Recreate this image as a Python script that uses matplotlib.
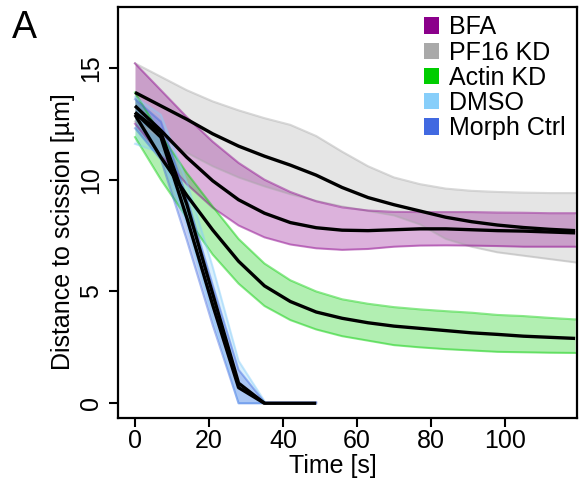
import matplotlib
matplotlib.use("Agg")
import matplotlib.pyplot as plt
from matplotlib.patches import Patch
import numpy as np

plt.rcParams['font.family'] = ['Liberation Sans', 'DejaVu Sans']

# time points (s), one frame every 7 s
t_long = np.arange(0, 120, 7)
t_dmso = t_long[:6]
t_morph = t_long[:8]

# BFA
bfa_mean = [13.3, 12.2, 11.0, 9.95, 9.1, 8.5, 8.08, 7.85, 7.74, 7.72, 7.76, 7.8, 7.8, 7.76, 7.72, 7.7, 7.66, 7.62]
bfa_low = [12.5, 11.1, 9.8, 8.75, 7.95, 7.42, 7.1, 6.93, 6.86, 6.9, 7.0, 7.05, 7.06, 7.05, 7.03, 7.0, 7.0, 7.0]
bfa_high = [15.2, 14.0, 12.8, 11.7, 10.75, 10.0, 9.45, 9.03, 8.76, 8.62, 8.56, 8.55, 8.55, 8.55, 8.53, 8.52, 8.5, 8.5]

# PF16 KD
pf16_mean = [13.9, 13.3, 12.7, 12.05, 11.5, 11.05, 10.65, 10.2, 9.65, 9.2, 8.88, 8.6, 8.32, 8.12, 7.97, 7.86, 7.78, 7.72]
pf16_low = [12.6, 11.9, 11.2, 10.6, 10.1, 9.7, 9.35, 9.05, 8.8, 8.6, 8.4, 8.0, 7.35, 7.0, 6.75, 6.6, 6.45, 6.3]
pf16_high = [15.2, 14.6, 14.0, 13.5, 13.1, 12.75, 12.45, 11.95, 11.25, 10.6, 10.1, 9.8, 9.6, 9.5, 9.45, 9.42, 9.4, 9.4]

# Actin KD
actin_mean = [12.9, 11.0, 9.3, 7.75, 6.35, 5.25, 4.55, 4.08, 3.8, 3.6, 3.45, 3.35, 3.25, 3.15, 3.08, 3.0, 2.95, 2.9]
actin_low = [11.9, 10.0, 8.3, 6.65, 5.35, 4.35, 3.72, 3.3, 3.0, 2.8, 2.6, 2.5, 2.42, 2.36, 2.3, 2.28, 2.26, 2.25]
actin_high = [13.9, 12.0, 10.3, 8.8, 7.35, 6.25, 5.5, 5.0, 4.65, 4.45, 4.3, 4.2, 4.12, 4.05, 3.95, 3.9, 3.82, 3.75]

# DMSO
dmso_mean = [13.0, 12.1, 8.9, 4.9, 0.9, 0.0]
dmso_low = [11.6, 11.2, 8.0, 3.8, 0.0, 0.0]
dmso_high = [13.7, 12.9, 9.9, 6.1, 1.9, 0.1]

# Morph Ctrl
morph_mean = [13.0, 11.9, 8.3, 4.4, 0.7, 0.0, 0.0, 0.0]
morph_low = [12.3, 10.9, 7.3, 3.5, 0.0, 0.0, 0.0, 0.0]
morph_high = [13.6, 12.6, 9.2, 5.3, 1.5, 0.05, 0.05, 0.05]

labels = ['BFA', 'PF16 KD', 'Actin KD', 'DMSO', 'Morph Ctrl']
colors = ['#8B008B', '#A9A9A9', '#00CD00', '#87CEFA', '#4169E1']

fig = plt.figure(figsize=(5.79, 4.88), dpi=100)
ax = fig.add_axes([0.2038, 0.1434, 0.7927, 0.8422])

series = [
    (t_long, pf16_mean, pf16_low, pf16_high, colors[1]),
    (t_long, bfa_mean, bfa_low, bfa_high, colors[0]),
    (t_long, actin_mean, actin_low, actin_high, colors[2]),
    (t_dmso, dmso_mean, dmso_low, dmso_high, colors[3]),
    (t_morph, morph_mean, morph_low, morph_high, colors[4]),
]

for t, m, lo, hi, c in series:
    ax.fill_between(t, lo, hi, color=c, alpha=0.3, lw=0)
    ax.plot(t, lo, color=c, alpha=0.45, lw=1.5)
    ax.plot(t, hi, color=c, alpha=0.45, lw=1.5)

for t, m, lo, hi, c in series:
    ax.plot(t, m, color='black', lw=2.4, solid_capstyle='butt')

ax.set_xlim(-4.6, 119.5)
ax.set_ylim(-0.66, 17.72)
ax.set_xticks([0, 20, 40, 60, 80, 100])
ax.set_yticks([0, 5, 10, 15])
for s in ax.spines.values():
    s.set_linewidth(1.6)
ax.tick_params(axis='both', labelsize=18, width=1.5, length=6.5)
ax.tick_params(axis='x', pad=1.5)
ax.tick_params(axis='y', pad=4)
plt.setp(ax.get_yticklabels(), rotation=90, va='center')

ax.set_xlabel('Time [s]', fontsize=18)
ax.set_ylabel('Distance to scission [µm]', fontsize=18)
ax.xaxis.set_label_coords(0.468, -0.088)
ax.yaxis.set_label_coords(-0.094, 0.4526)

handles = [Patch(facecolor=c, edgecolor='none') for c in colors]
ax.legend(handles, labels, loc='upper right', frameon=False, fontsize=18,
          handlelength=0.62, handleheight=0.62, handletextpad=0.4,
          labelspacing=0.05, borderaxespad=0.0, bbox_to_anchor=(0.998, 1.004))

fig.text(0.0423, 0.9416, 'A', fontsize=27, ha='center', va='center')

fig.savefig('out.png', dpi=100)
